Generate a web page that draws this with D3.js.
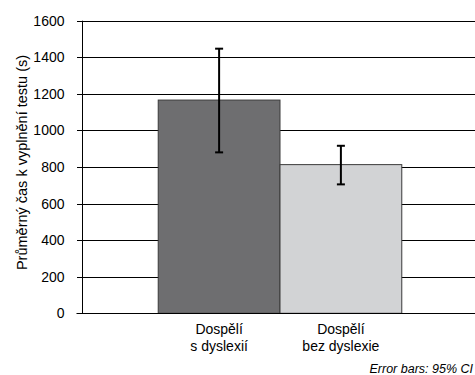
<!DOCTYPE html>
<meta charset="utf-8">
<style>
body { margin: 0; background: #fff; }
svg { display: block; font-family: "Liberation Sans", Arial, sans-serif; }
.grid line { stroke: #000; stroke-width: 1; shape-rendering: crispEdges; }
.tick text { font-size: 14px; fill: #000; }
</style>
<svg width="475" height="375"></svg>
<script src="https://cdn.jsdelivr.net/npm/d3@7"></script>
<script>

var categories = [["Dospělí", "s dyslexií"], ["Dospělí", "bez dyslexie"]],
    means = [1166, 813],
    ciLow = [880, 705],
    ciHigh = [1447, 916],
    yTicks = [0, 200, 400, 600, 800, 1000, 1200, 1400, 1600];

var fills = ["#6e6e70", "#d2d3d5"];

var svg = d3.select("svg"),
    plotLeft = 81.5, plotRight = 478.5, plotTop = 20.7, plotBottom = 313.3;

var x = d3.scaleBand()
    .domain(d3.range(categories.length))
    .range([plotLeft, plotRight])
    .paddingInner(0)
    .paddingOuter(0.63);

var y = d3.scaleLinear()
    .domain([0, 1600])
    .range([plotBottom, plotTop]);

// gridlines
svg.append("g")
    .attr("class", "grid")
  .selectAll("line")
    .data(yTicks)
  .enter().append("line")
    .attr("x1", plotLeft - 5)
    .attr("x2", 475)
    .attr("y1", function(d) { return Math.round(y(d)) + 0.5; })
    .attr("y2", function(d) { return Math.round(y(d)) + 0.5; });

// tick labels
svg.append("g")
    .attr("class", "tick")
  .selectAll("text")
    .data(yTicks)
  .enter().append("text")
    .attr("x", 64.5)
    .attr("y", function(d) { return y(d); })
    .attr("dy", "0.36em")
    .attr("text-anchor", "end")
    .text(function(d) { return d; });

// bars
svg.append("g")
  .selectAll("rect")
    .data(means)
  .enter().append("rect")
    .attr("x", function(d, i) { return x(i); })
    .attr("y", function(d) { return y(d); })
    .attr("width", x.bandwidth())
    .attr("height", function(d) { return plotBottom - y(d); })
    .attr("fill", function(d, i) { return fills[i]; })
    .attr("stroke", "#3a3a3a")
    .attr("stroke-width", 1);

// y axis line + baseline
svg.append("line")
    .attr("x1", Math.round(plotLeft) + 0.5).attr("x2", Math.round(plotLeft) + 0.5)
    .attr("y1", y(1600)).attr("y2", plotBottom + 0.5)
    .attr("stroke", "#000");
svg.append("line")
    .attr("x1", plotLeft - 5).attr("x2", 475)
    .attr("y1", Math.round(plotBottom) + 0.5).attr("y2", Math.round(plotBottom) + 0.5)
    .attr("stroke", "#000").attr("stroke-width", 1.2);

// error bars
var err = svg.append("g")
    .attr("stroke", "#000")
    .attr("stroke-width", 2)
  .selectAll("g")
    .data(means)
  .enter().append("g");

err.append("line")
    .attr("x1", function(d, i) { return x(i) + x.bandwidth() / 2; })
    .attr("x2", function(d, i) { return x(i) + x.bandwidth() / 2; })
    .attr("y1", function(d, i) { return y(ciHigh[i]); })
    .attr("y2", function(d, i) { return y(ciLow[i]); });

[ciHigh, ciLow].forEach(function(arr) {
  err.append("line")
      .attr("x1", function(d, i) { return x(i) + x.bandwidth() / 2 - 4; })
      .attr("x2", function(d, i) { return x(i) + x.bandwidth() / 2 + 4; })
      .attr("y1", function(d, i) { return y(arr[i]); })
      .attr("y2", function(d, i) { return y(arr[i]); });
});

// category labels
var cat = svg.append("g")
  .selectAll("text")
    .data(categories)
  .enter().append("text")
    .attr("text-anchor", "middle")
    .attr("font-size", 14)
    .attr("x", function(d, i) { return x(i) + x.bandwidth() / 2; })
    .attr("y", 334);

cat.selectAll("tspan")
    .data(function(d) { return d; })
  .enter().append("tspan")
    .attr("x", function() { return d3.select(this.parentNode).attr("x"); })
    .attr("dy", function(d, i) { return i ? 17 : 0; })
    .text(function(d) { return d; });

// y axis title
svg.append("text")
    .attr("transform", "translate(27," + 162.5 + ") rotate(-90)")
    .attr("text-anchor", "middle")
    .attr("font-size", 14.5)
    .text("Průměrný čas k vyplnění testu (s)");

svg.append("text")
    .attr("x", 473)
    .attr("y", 373)
    .attr("text-anchor", "end")
    .attr("font-size", 12.5)
    .attr("font-style", "italic")
    .text("Error bars: 95% CI");

</script>
